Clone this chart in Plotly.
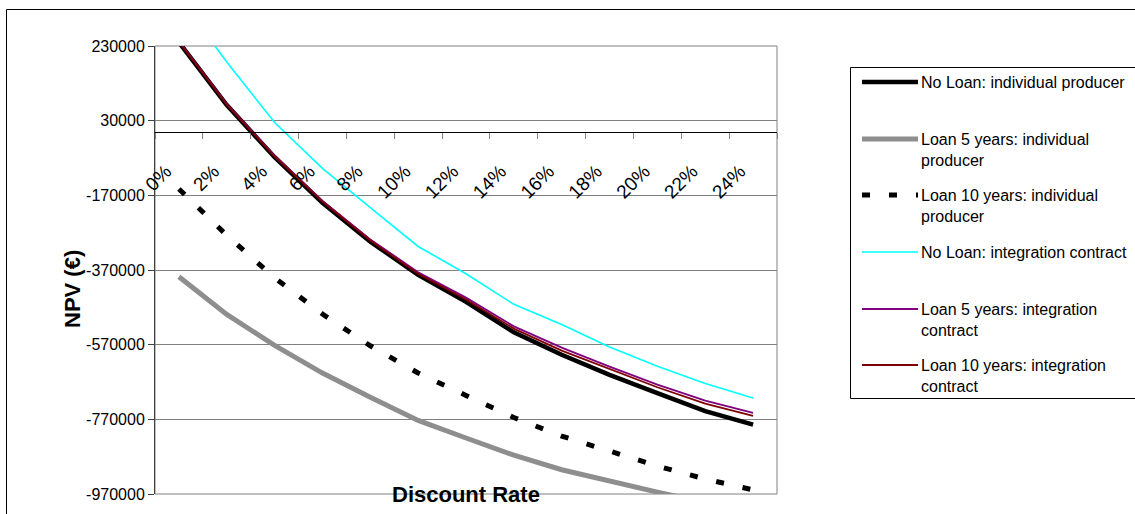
import plotly.graph_objects as go

# Discount rates shown on the category axis
rates = ["0%", "2%", "4%", "6%", "8%", "10%", "12%", "14%", "16%", "18%", "20%", "22%", "24%"]

# NPV (EUR) per scenario at each discount rate
npv_no_loan_individual = [240000, 72000, -68000, -190000, -294000, -383000, -455000,
                          -537000, -597000, -651000, -700000, -748000, -784000]
npv_loan5_individual = [-388000, -489000, -572000, -646000, -711000, -773000, -820000,
                        -866000, -905000, -936000, -965000, -993000, -1018000]
npv_loan10_individual = [-153000, -277000, -391000, -488000, -573000, -646000, -706000,
                         -765000, -815000, -854000, -895000, -930000, -959000]
npv_no_loan_integration = [360000, 187000, 25000, -98000, -203000, -307000, -380000,
                           -462000, -516000, -576000, -628000, -674000, -713000]
npv_loan5_integration = [243000, 75000, -64000, -185000, -288000, -376000, -444000,
                         -521000, -578000, -629000, -677000, -720000, -753000]
npv_loan10_integration = [241000, 73000, -66000, -187000, -291000, -380000, -449000,
                          -527000, -586000, -636000, -684000, -728000, -761000]

series_names = [
    "No Loan: individual producer",
    "Loan 5 years: individual<br>producer",
    "Loan 10 years: individual<br>producer",
    "No Loan: integration contract",
    "Loan 5 years: integration<br>contract",
    "Loan 10 years: integration<br>contract",
]

y_tick_values = [230000, 30000, -170000, -370000, -570000, -770000, -970000]
y_tick_labels = ["230000", "30000", "-170000", "-370000", "-570000", "-770000", "-970000"]

series_values = [npv_no_loan_individual, npv_loan5_individual, npv_loan10_individual,
                 npv_no_loan_integration, npv_loan5_integration, npv_loan10_integration]

# line styles, one per series
line_styles = [
    dict(color="#000000", width=4.5),
    dict(color="#8e8e8e", width=5),
    dict(color="#000000", width=5, dash="8px,19px"),
    dict(color="#00ffff", width=1.6),
    dict(color="#800080", width=1.8),
    dict(color="#800000", width=1.8),
]

W, H = 1135, 514
ML, MR, MT, MB = 155, 358, 46, 20
PW, PH = W - ML - MR, H - MT - MB
Y_MIN, Y_MAX = -970000, 230000
FONT = "Arial, 'Liberation Sans', sans-serif"


def px_x(px):
    return (px - ML) / PW


def px_y(py):
    return (H - MB - py) / PH


fig = go.Figure()
for name, vals, style in zip(series_names, series_values, line_styles):
    fig.add_trace(go.Scatter(
        x=rates, y=vals, mode="lines", name=name.replace("<br>", " "),
        line=style, showlegend=False, hoverinfo="skip",
    ))

zero_pos = (0 - Y_MIN) / (Y_MAX - Y_MIN)

shapes = [
    # plot area frame
    dict(type="rect", xref="paper", yref="paper", x0=0, x1=1, y0=0, y1=1,
         line=dict(color="#808080", width=1), layer="below"),
    # chart frame
    dict(type="rect", xref="paper", yref="paper",
         x0=px_x(6.5), x1=px_x(1145), y0=px_y(530), y1=px_y(9.5),
         line=dict(color="#000000", width=1), layer="below"),
    # legend box
    dict(type="rect", xref="paper", yref="paper",
         x0=px_x(850.5), x1=px_x(1150), y0=px_y(398.5), y1=px_y(67.5),
         line=dict(color="#000000", width=1), fillcolor="white", layer="below"),
]

annotations = [
    dict(text="<b>NPV (€)</b>", xref="paper", yref="paper", x=px_x(72), y=px_y(289),
         textangle=-90, showarrow=False, font=dict(family=FONT, size=22, color="black"),
         xanchor="center", yanchor="middle"),
    dict(text="<b>Discount Rate</b>", xref="paper", yref="paper", x=px_x(466), y=px_y(494),
         showarrow=False, font=dict(family=FONT, size=22, color="black"),
         xanchor="center", yanchor="middle"),
]

legend_rows = [82, 139, 195, 252, 309, 365]
for name, style, ry in zip(series_names, line_styles, legend_rows):
    shapes.append(dict(
        type="line", xref="paper", yref="paper",
        x0=px_x(862), x1=px_x(918), y0=px_y(ry), y1=px_y(ry),
        line=dict(color=style["color"], width=style["width"], dash=style.get("dash", "solid")),
    ))
    n_lines = name.count("<br>") + 1
    annotations.append(dict(
        text=name, xref="paper", yref="paper", x=px_x(919), y=px_y(ry + 11 * (n_lines - 1)),
        xanchor="left", yanchor="middle", align="left", showarrow=False,
        font=dict(family=FONT, size=16, color="black"),
    ))

fig.update_layout(
    width=W, height=H,
    margin=dict(l=ML, r=MR, t=MT, b=MB, pad=0),
    paper_bgcolor="white", plot_bgcolor="white",
    font=dict(family=FONT, size=16, color="black"),
    showlegend=False,
    shapes=shapes,
    annotations=annotations,
    xaxis=dict(
        type="category", categoryorder="array", categoryarray=rates,
        range=[-0.5, len(rates) - 0.5],
        anchor="free", position=zero_pos,
        showline=True, linecolor="#000000", linewidth=1,
        ticks="outside", ticklen=6, tickcolor="#808080", tickson="boundaries",
        tickangle=-45, tickfont=dict(family=FONT, size=19, color="black"),
        ticklabelshift=-13, ticklabelstandoff=20,
        showgrid=False, zeroline=False, automargin=False,
    ),
    yaxis=dict(
        range=[Y_MIN, Y_MAX],
        tickvals=y_tick_values, ticktext=y_tick_labels,
        showline=True, linecolor="#404040", linewidth=1,
        ticks="outside", ticklen=6, tickcolor="#404040",
        tickfont=dict(family=FONT, size=16, color="black"),
        showgrid=True, gridcolor="#808080", gridwidth=1,
        zeroline=False, automargin=False,
    ),
)

fig.write_html("out.html")
